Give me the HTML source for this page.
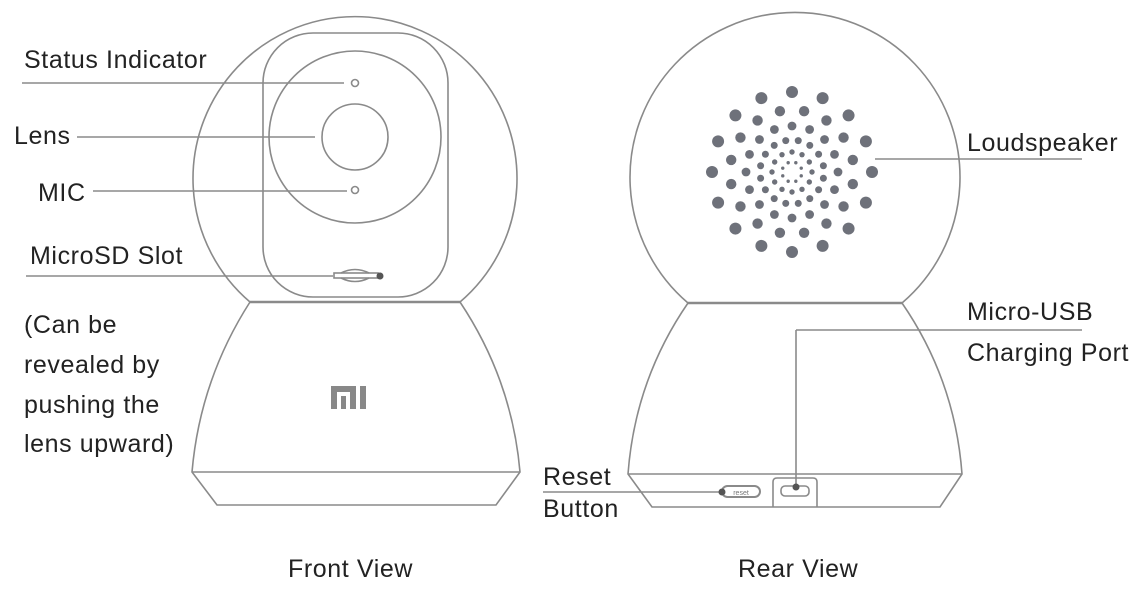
<!DOCTYPE html>
<html><head><style>
body{margin:0;background:#fff;width:1148px;height:600px;overflow:hidden}
svg{display:block}
text{font-family:"Liberation Sans",sans-serif;fill:#222;font-size:25px;letter-spacing:0.6px}
</style></head><body>
<svg width="1148" height="600" viewBox="0 0 1148 600">
<g fill="none" stroke="#8a8a8a" stroke-width="1.6">
<!-- front -->
<path d="M250 302 A162 162 0 1 1 460 302"/>
<line x1="250" y1="302" x2="460" y2="302" stroke-width="2.5"/>
<path d="M250 302 Q200 380 192 472 L217 505 L496 505 L520 472 Q512 380 460 302"/>
<line x1="192" y1="472" x2="520" y2="472"/>
<rect x="263" y="33" width="185" height="264" rx="50"/>
<circle cx="355" cy="137" r="86"/>
<circle cx="355" cy="137" r="33"/>
<circle cx="355" cy="83" r="3.5"/>
<circle cx="355" cy="190" r="3.5"/>
<rect x="334" y="273" width="44" height="5"/>
<path d="M341 273 Q355 266 369 273 M341 278 Q355 285 369 278"/>
<line x1="22" y1="83" x2="344" y2="83"/>
<line x1="77" y1="137" x2="315" y2="137"/>
<line x1="93" y1="191" x2="347" y2="191"/>
<line x1="26" y1="276" x2="333" y2="276"/>
<!-- rear -->
<path d="M688 303 A165 165 0 1 1 902 303"/>
<line x1="688" y1="303" x2="902" y2="303" stroke-width="2.5"/>
<path d="M688 303 Q635 380 628 474 L652 507 L940 507 L962 474 Q955 380 902 303"/>
<line x1="628" y1="474" x2="962" y2="474"/>
<path d="M773 507 V482 Q773 478 777 478 H813 Q817 478 817 482 V507"/>
<rect x="781" y="486" width="28" height="10" rx="4"/>
<rect x="722" y="486" width="38" height="11" rx="5.5" stroke-width="2"/>
<line x1="796" y1="490" x2="796" y2="330"/>
<line x1="796" y1="330" x2="1082" y2="330"/>
<line x1="543" y1="492" x2="722" y2="492"/>
<line x1="875" y1="159" x2="1082" y2="159"/>
</g>
<circle cx="380" cy="276" r="3.5" fill="#555"/>
<circle cx="796" cy="487" r="3.5" fill="#555"/>
<circle cx="722" cy="492" r="3.5" fill="#555"/>
<text x="741" y="495" style="font-size:7px;fill:#777;letter-spacing:0" text-anchor="middle">reset</text>
<!-- MI logo -->
<g fill="#888">
<rect x="331" y="386" width="25" height="6"/>
<rect x="331" y="386" width="6" height="23"/>
<rect x="350" y="386" width="6" height="23"/>
<rect x="341" y="396" width="5" height="13"/>
<rect x="360" y="386" width="6" height="23"/>
</g>
<g id="dots" fill="#6e717a"></g>
<text x="24" y="68">Status Indicator</text>
<text x="14" y="144">Lens</text>
<text x="38" y="201">MIC</text>
<text x="30" y="264">MicroSD Slot</text>
<text x="24" y="333">(Can be</text>
<text x="24" y="373">revealed by</text>
<text x="24" y="413">pushing the</text>
<text x="24" y="452">lens upward)</text>
<text x="967" y="151">Loudspeaker</text>
<text x="967" y="320">Micro-USB</text>
<text x="967" y="361">Charging Port</text>
<text x="543" y="485">Reset</text>
<text x="543" y="517">Button</text>
<text x="288" y="577">Front View</text>
<text x="738" y="577">Rear View</text>
</svg>
<script>
var g=document.getElementById('dots'),cx=792,cy=172;
var rings=[[80,16,6,0],[62,16,5.2,0.5],[46,16,4.4,0],[32,16,3.5,0.5],[20,12,2.7,0],[10,8,1.7,0.5]];
rings.forEach(function(r){for(var i=0;i<r[1];i++){var a=(i+r[3])/r[1]*2*Math.PI-Math.PI/2;
var c=document.createElementNS('http://www.w3.org/2000/svg','circle');
c.setAttribute('cx',cx+r[0]*Math.cos(a));c.setAttribute('cy',cy+r[0]*Math.sin(a));c.setAttribute('r',r[2]);g.appendChild(c);}});
</script>
</body></html>
